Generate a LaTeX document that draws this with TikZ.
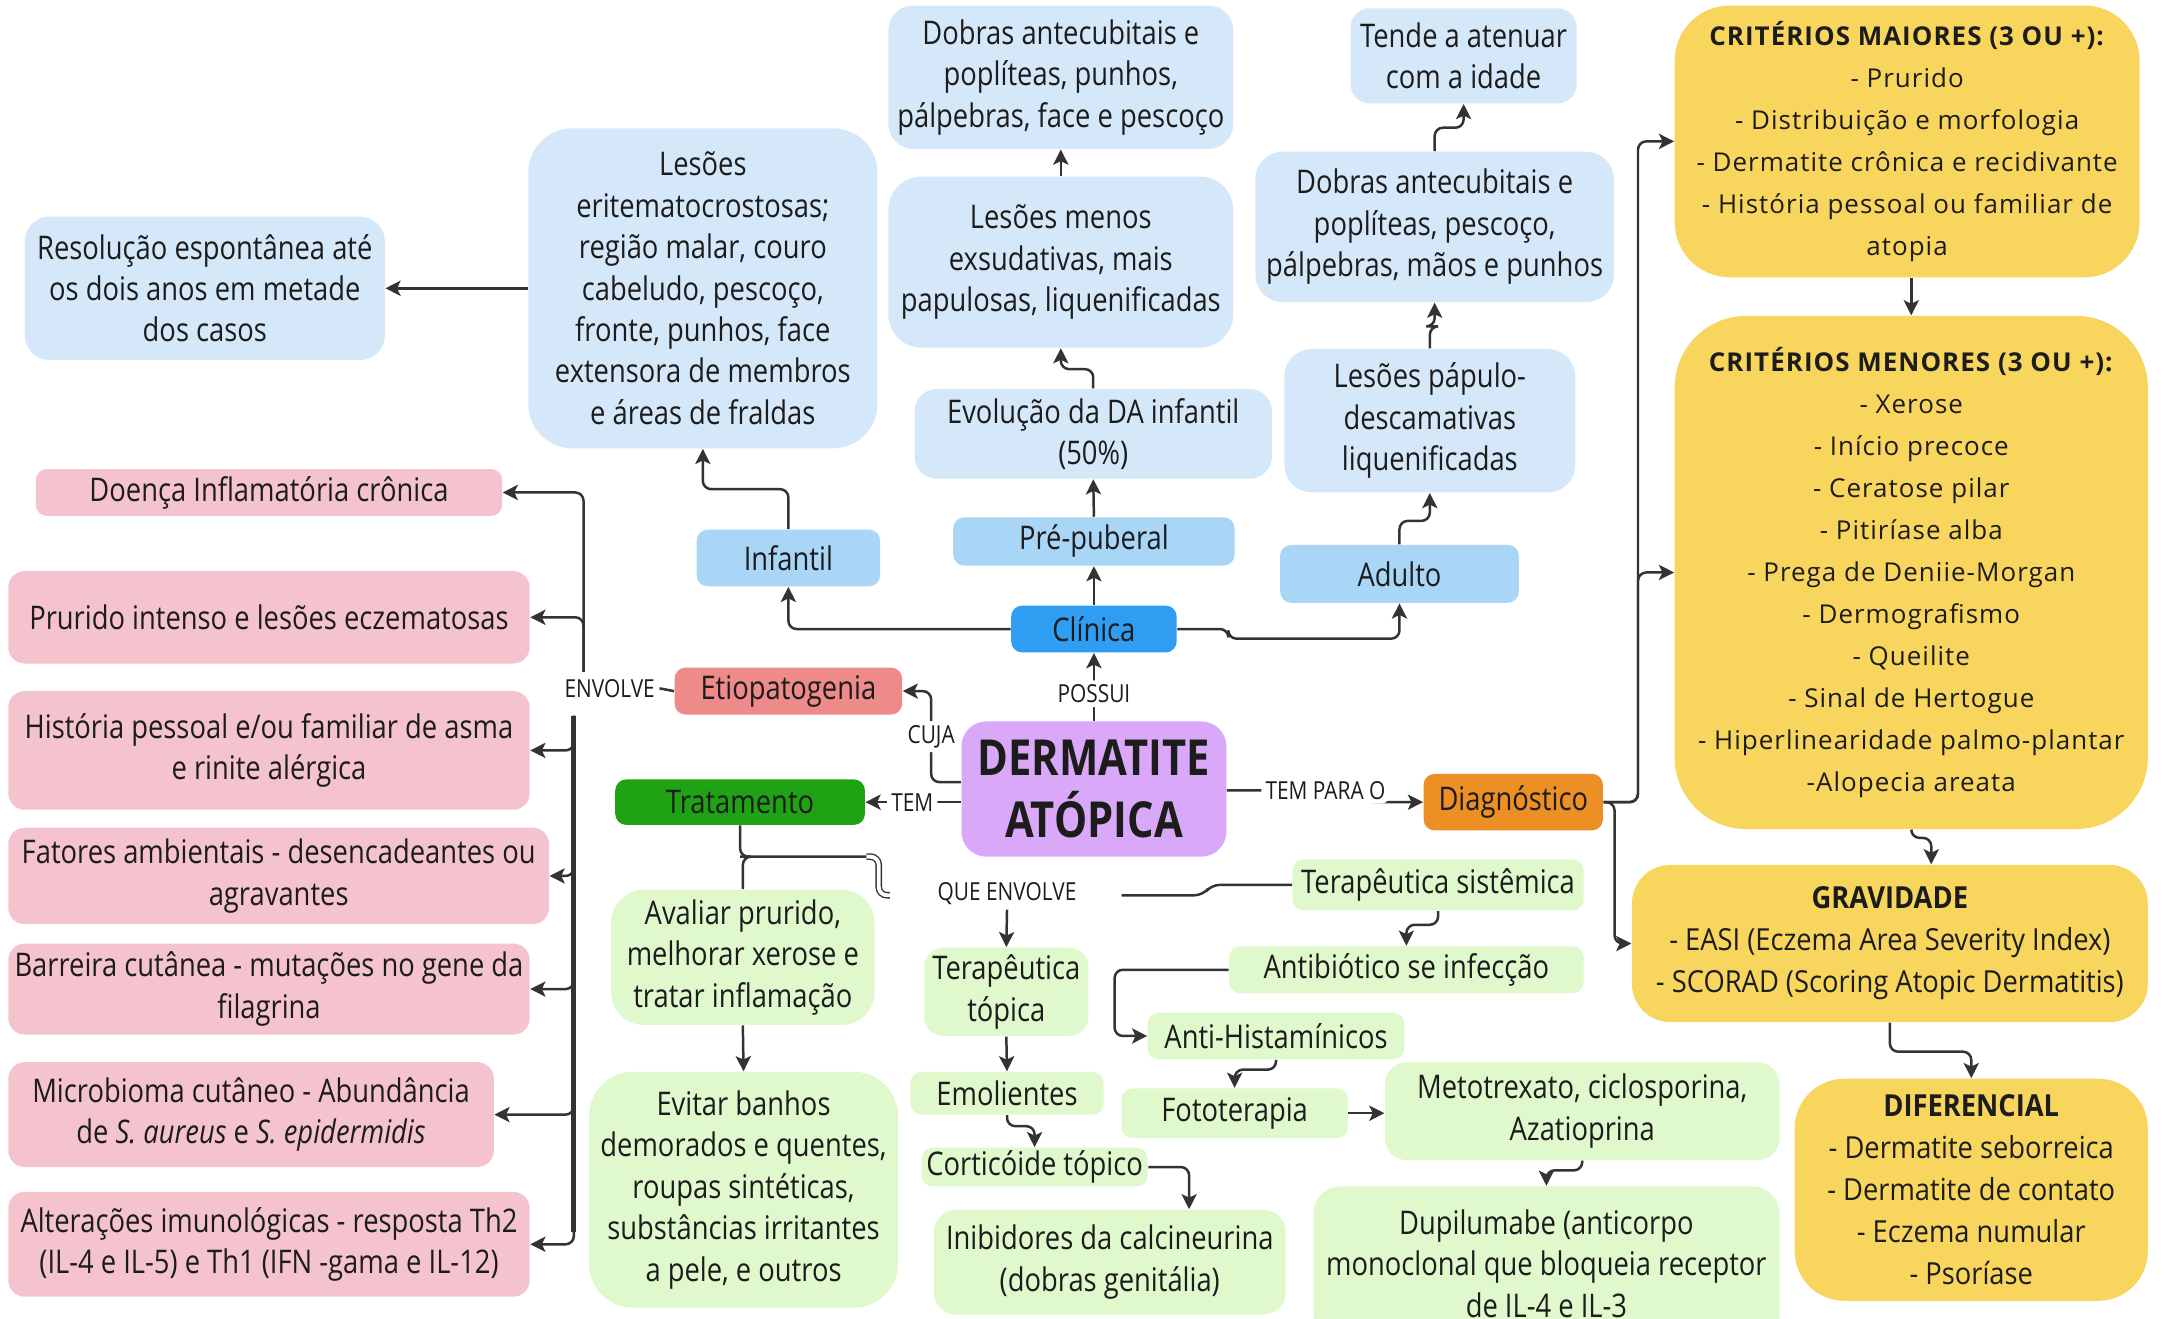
\documentclass[tikz,border=0pt]{standalone}
\usepackage{fontspec}
\setmainfont{Open Sans}
\newfontfamily\cf{Open Sans}[FakeStretch=0.84]
\newfontfamily\mf{Open Sans}[FakeStretch=0.9]
\newfontfamily\wf{Open Sans}[LetterSpace=4]
\usetikzlibrary{arrows.meta,calc}

\definecolor{lblue}{HTML}{D5E8F9}
\definecolor{mblue}{HTML}{A9D5F7}
\definecolor{cblue}{HTML}{2F9DF2}
\definecolor{etred}{HTML}{EE8A89}
\definecolor{pinkbox}{HTML}{F4C3CE}
\definecolor{dgreen}{HTML}{1FA314}
\definecolor{lgreen}{HTML}{DFF9CC}
\definecolor{purp}{HTML}{D9A8F8}
\definecolor{orng}{HTML}{EC8F25}
\definecolor{yell}{HTML}{F8D55D}
\definecolor{lc}{HTML}{333333}
\definecolor{txt}{HTML}{1C1C1C}

\tikzset{
  box/.style={rounded corners=4pt, align=center, inner sep=0pt, text=txt,
    font={\cf\fontsize{11.8}{15}\selectfont}},
  lb/.style={box, fill=lblue},
  mb/.style={box, fill=mblue},
  pk/.style={box, fill=pinkbox, rounded corners=6pt},
  lg/.style={box, fill=lgreen},
  yb/.style={box, fill=yell, font={\wf\fontsize{9.4}{15.2}\selectfont}},
  yb2/.style={box, fill=yell, font={\mf\fontsize{11}{15.2}\selectfont}},
  lbl/.style={fill=white, inner sep=1.5pt, text=txt, font={\cf\fontsize{9}{11}\selectfont}},
  conn/.style={draw=lc, line width=0.9pt, rounded corners=3pt},
  arr/.style={conn, -{Stealth[length=5.5pt,width=5.5pt,inset=1.3pt]}},
  trunk/.style={draw=lc, line width=1.8pt},
}

\begin{document}
\begin{tikzpicture}[x=0.5pt,y=-0.5pt]
\fill[white] (0,0) rectangle (1568,956);
\useasboundingbox (0,0) rectangle (1568,956);

% ---- clinical course (blue) ----
\node[lb, minimum width=130.5pt, minimum height=52pt, rounded corners=9pt] (resol) at (148.5,209)
  {Resolução espontânea até\\os dois anos em metade\\dos casos};
\node[lb, minimum width=126.5pt, minimum height=116pt, rounded corners=16pt] (lesInf) at (509.5,209)
  {Lesões\\eritematocrostosas;\\região malar, couro\\cabeludo, pescoço,\\fronte, punhos, face\\extensora de membros\\e áreas de fraldas};
\node[lb, minimum width=125pt, minimum height=52pt, rounded corners=9pt] (dob1) at (769,56)
  {Dobras antecubitais e\\poplíteas, punhos,\\pálpebras, face e pescoço};
\node[lb, minimum width=125pt, minimum height=62pt, rounded corners=12pt] (lesMen) at (769,190)
  {Lesões menos\\exsudativas, mais\\papulosas, liquenificadas};
\node[lb, minimum width=129.5pt, minimum height=32.5pt, rounded corners=8pt] (evol) at (792.5,314.5)
  {Evolução da DA infantil\\(50\%)};
\node[lb, minimum width=82pt, minimum height=34.5pt, rounded corners=7pt] (tende) at (1061,40.5)
  {Tende a atenuar\\com a idade};
\node[lb, minimum width=130pt, minimum height=54.5pt, rounded corners=10pt] (dob2) at (1040,164.5)
  {Dobras antecubitais e\\poplíteas, pescoço,\\pálpebras, mãos e punhos};
\node[lb, minimum width=105.5pt, minimum height=52pt, rounded corners=10pt] (papulo) at (1036.5,305)
  {Lesões pápulo-\\descamativas\\liquenificadas};

\node[mb, minimum width=66.5pt, minimum height=20.5pt] (infantil) at (571.5,404.5) {Infantil};
\node[mb, minimum width=102pt, minimum height=17.5pt] (prepub) at (793,392.5) {Pré-puberal};
\node[mb, minimum width=86.5pt, minimum height=21pt] (adulto) at (1014.5,416) {Adulto};
\node[box, fill=cblue, minimum width=60pt, minimum height=17pt] (clinica) at (793,456) {Clínica};

% ---- etiopathogenesis (red/pink) ----
\node[box, fill=etred, minimum width=82.5pt, minimum height=17pt] (etio) at (571.5,501) {Etiopatogenia};
\node[pk, minimum width=169pt, minimum height=17pt, rounded corners=4pt] (doenca) at (195,357) {Doença Inflamatória crônica};
\node[pk, minimum width=189pt, minimum height=33.5pt] (prurido) at (195,447.5) {Prurido intenso e lesões eczematosas};
\node[pk, minimum width=189pt, minimum height=43pt] (historia) at (195,544) {História pessoal e/ou familiar de asma\\e rinite alérgica};
\node[pk, minimum width=196pt, minimum height=35pt] (fatores) at (202,635) {Fatores ambientais - desencadeantes ou\\agravantes};
\node[pk, minimum width=189pt, minimum height=33pt] (barreira) at (195,717) {Barreira cutânea - mutações no gene da\\filagrina};
\node[pk, minimum width=176pt, minimum height=38pt] (micro) at (182,808) {Microbioma cutâneo - Abundância\\de \textit{S. aureus} e \textit{S. epidermidis}};
\node[pk, minimum width=189pt, minimum height=38pt] (alter) at (195,902) {Alterações imunológicas - resposta Th2\\(IL-4 e IL-5) e Th1 (IFN -gama e IL-12)};

% ---- central concept ----
\node[box, fill=purp, minimum width=96pt, minimum height=49pt, rounded corners=9pt,
      font={\cf\bfseries\fontsize{18}{22.5}\selectfont}] (derm) at (793,572) {DERMATITE\\ATÓPICA};
\node[box, fill=orng, minimum width=65pt, minimum height=20.5pt] (diag) at (1097,581.5) {Diagnóstico};

% ---- diagnosis (yellow) ----
\node[yb, minimum width=168.5pt, minimum height=98.5pt, rounded corners=20pt] (maiores) at (1382.5,102.5)
  {\textbf{CRITÉRIOS MAIORES (3 OU +):}\\- Prurido\\- Distribuição e morfologia\\- Dermatite crônica e recidivante\\- História pessoal ou familiar de\\atopia};
\node[yb, minimum width=171.5pt, minimum height=186pt, rounded corners=26pt] (menores) at (1385.5,415)
  {\textbf{CRITÉRIOS MENORES (3 OU +):}\\- Xerose\\- Início precoce\\- Ceratose pilar\\- Pitiríase alba\\- Prega de Deniie-Morgan\\- Dermografismo\\- Queilite\\- Sinal de Hertogue\\- Hiperlinearidade palmo-plantar\\-Alopecia areata};
\node[yb2, minimum width=187pt, minimum height=57pt, rounded corners=14pt] (grav) at (1370,684)
  {\textbf{GRAVIDADE}\\- EASI (Eczema Area Severity Index)\\- SCORAD (Scoring Atopic Dermatitis)};
\node[yb2, minimum width=128pt, minimum height=80.5pt, rounded corners=18pt] (difer) at (1429,862.5)
  {\textbf{DIFERENCIAL}\\- Dermatite seborreica\\- Dermatite de contato\\- Eczema numular\\- Psoríase};

% ---- treatment (green) ----
\node[box, fill=dgreen, minimum width=90.5pt, minimum height=16.5pt] (trat) at (536.5,581.5) {Tratamento};
\node[lg, minimum width=95.5pt, minimum height=49pt, rounded corners=12pt] (avaliar) at (538.5,694)
  {Avaliar prurido,\\melhorar xerose e\\tratar inflamação};
\node[lg, minimum width=112pt, minimum height=85.5pt, rounded corners=16pt] (evitar) at (539,862.5)
  {Evitar banhos\\demorados e quentes,\\roupas sintéticas,\\substâncias irritantes\\a pele, e outros};
\node[lg, minimum width=59.5pt, minimum height=32pt, rounded corners=7pt] (tertop) at (729.5,719) {Terapêutica\\tópica};
\node[lg, minimum width=70pt, minimum height=15.5pt] (emol) at (730,792.5) {Emolientes};
\node[lg, minimum width=82pt, minimum height=14pt] (cortic) at (750,846) {Corticóide tópico};
\node[lg, minimum width=127.5pt, minimum height=38pt, rounded corners=8pt] (inib) at (804.5,915) {Inibidores da calcineurina\\(dobras genitália)};
\node[lg, minimum width=105.5pt, minimum height=18.5pt] (tersis) at (1042.5,641.5) {Terapêutica sistêmica};
\node[lg, minimum width=128.5pt, minimum height=17pt] (antib) at (1019.5,703) {Antibiótico se infecção};
\node[lg, minimum width=93pt, minimum height=17pt] (antihis) at (925,751) {Anti-Histamínicos};
\node[lg, minimum width=82pt, minimum height=18pt] (foto) at (895,807) {Fototerapia};
\node[lg, minimum width=143pt, minimum height=35.5pt, rounded corners=8pt] (meto) at (1147,805.5) {Metotrexato, ciclosporina,\\Azatioprina};
\node[lg, minimum width=169pt, minimum height=56pt, rounded corners=10pt] (dupi) at (1121,916)
  {Dupilumabe (anticorpo\\monoclonal que bloqueia receptor\\de IL-4 e IL-3};

% ---- free-standing link labels ----
\node[lbl] (env) at (442,499) {ENVOLVE};
\node[lbl] (qe) at (730,648) {QUE ENVOLVE};

% ---- junction points ----
\coordinate (envUp) at (423,487);
\coordinate (envDn) at (416,519);
\coordinate (tj) at (536.5,621);
\coordinate (qeL) at (645,649);
\coordinate (qeR) at (813,649);

% ---- connectors: clinical course ----
\draw[arr] (derm.north) -- node[lbl, pos=0.4] {POSSUI} (clinica.south);
\draw[arr] (clinica.west) -| (infantil.south);
\draw[arr] (clinica.north) -- (prepub.south);
\draw[arr] (clinica.east) -- ++(37,0) -- ++(0,7) -| (adulto.south);
\draw[arr] (infantil.north) -- ++(0,-29) -| (lesInf.south);
\draw[arr] (lesInf.west) -- (resol.east);
\draw[arr] (prepub.north) -- (evol.south);
\draw[arr] (evol.north) -- ++(0,-14) -| (lesMen.south);
\draw[arr] (lesMen.north) -- (dob1.south);
\draw[arr] (adulto.north) -- ++(0,-17) -| (papulo.south);
\draw[arr] (papulo.north) -- ++(0,-16) -| (dob2.south);
\draw[arr] (dob2.north) -- ++(0,-17) -| (tende.south);

% ---- connectors: etiopathogenesis ----
\draw[arr] ($(derm.west)+(0,-5)$) -- (675,567) -- node[lbl] {CUJA} (675,501) -- (etio.east);
\draw[conn] (etio.west) -- (env.east);
\draw[arr] (envUp) |- (doenca.east);
\draw[arr] (envUp) |- (prurido.east);
\draw[trunk] (envDn) -- (416,893);
\draw[arr] (envDn) |- (historia.east);
\draw[arr] (envDn) |- (fatores.east);
\draw[arr] (envDn) |- (barreira.east);
\draw[arr] (envDn) |- (micro.east);
\draw[arr] (envDn) |- (alter.east);

% ---- connectors: treatment ----
\draw[arr] (derm.west |- trat.east) -- node[lbl, pos=0.51] {TEM} (trat.east);
\draw[conn] (trat.south) -- (tj) -- (632,621);
\draw[draw=lc, line width=0.5pt, double=white, double distance=1.4pt, rounded corners=3pt]
  (628,621) -- (637,621) -- (637,649) -- (qeL);
\draw[conn] (tj) -- ++(6,0) -- ++(-4,0) |- (avaliar.north);
\draw[arr] (avaliar.south) -- (evitar.north);
\draw[arr] (qe.south) -- (tertop.north);
\draw[conn] (qeR) -- (872,649) -- (878,641.5) -- (tersis.west);
\draw[arr] (tertop.south) -- (emol.north);
\draw[arr] (emol.south) -- ++(0,8) -| (cortic.north);
\draw[arr] (cortic.east) -| ($(inib.north)+(57.5,0)$);
\draw[arr] (tersis.south) -- ++(0,10) -| (antib.north);
\draw[arr] (antib.west) -- (808,703) |- (antihis.west);
\draw[arr] (antihis.south) -- ++(0,7) -| (foto.north);
\draw[arr] (foto.east) -- (foto.east -| meto.west);
\draw[arr] (meto.south) -- ++(0,7) -| (dupi.north);

% ---- connectors: diagnosis ----
\draw[arr] ($(derm.east)+(0,1)$) -- node[lbl, pos=0.71] {TEM PARA O} (990,573) -- (990,581.5) -- (diag.west);
\draw[arr] (diag.east) -- ++(25,0) |- (maiores.west);
\draw[arr] (diag.east) -- ++(25,0) |- (menores.west);
\draw[arr] (diag.east) -- ++(8,0) |- (grav.west);
\draw[arr] (menores.north |- maiores.south) -- (menores.north);
\draw[arr] (menores.south) -- ++(0,6) -| ($(grav.north)+(30,0)$);
\draw[arr] (grav.south) -- ++(0,21) -| (difer.north);
\end{tikzpicture}
\end{document}
